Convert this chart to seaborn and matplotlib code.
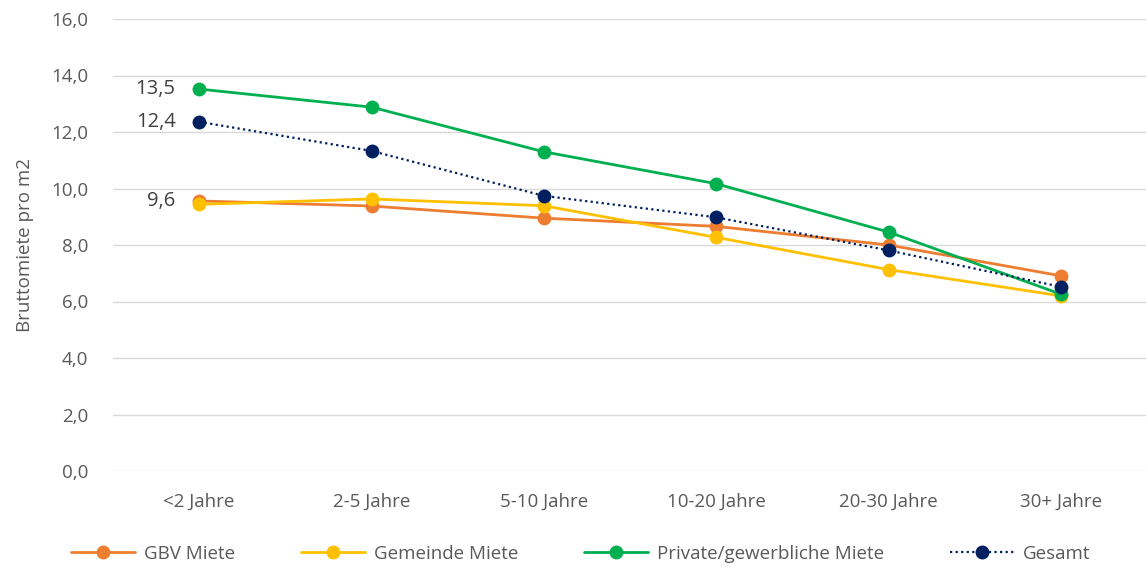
import matplotlib
matplotlib.use("Agg")
import matplotlib.pyplot as plt
import seaborn as sns
import pandas as pd
from matplotlib.ticker import FuncFormatter, MultipleLocator

categories = ["<2 Jahre", "2-5 Jahre", "5-10 Jahre", "10-20 Jahre", "20-30 Jahre", "30+ Jahre"]
gbv = [9.56, 9.38, 8.95, 8.66, 8.00, 6.91]
gemeinde = [9.44, 9.63, 9.39, 8.27, 7.13, 6.20]
private = [13.52, 12.88, 11.30, 10.17, 8.46, 6.26]
gesamt = [12.36, 11.33, 9.74, 8.98, 7.81, 6.52]
series_names = ["GBV Miete", "Gemeinde Miete", "Private/gewerbliche Miete", "Gesamt"]
series_values = [gbv, gemeinde, private, gesamt]
colors = ["#ED7D31", "#FFC000", "#00B050", "#002060"]
first_labels = {"GBV Miete": "9,6", "Private/gewerbliche Miete": "13,5", "Gesamt": "12,4"}

sns.set_theme(style="white")
plt.rcParams["font.family"] = ["Open Sans", "DejaVu Sans"]

fig = plt.figure(figsize=(11.46, 5.69), dpi=100)
ax = fig.add_axes([113/1146, 1 - 471/569, (1147-113)/1146, (471-19)/569])

rows = []
for name, vals in zip(series_names, series_values):
    for i, (c, v) in enumerate(zip(categories, vals)):
        rows.append({"Kategorie": c, "x": i, "Wert": v, "Serie": name})
df = pd.DataFrame(rows)

for name, col in zip(series_names, colors):
    sub = df[df["Serie"] == name]
    ls = (0, (1, 1.5)) if name == "Gesamt" else "-"
    lw = 1.6 if name == "Gesamt" else 2.0
    sns.lineplot(data=sub, x="x", y="Wert", ax=ax, color=col, linewidth=lw,
                 linestyle=ls, marker="o", markersize=10, markeredgewidth=0,
                 label=name, legend=False)
    if name in first_labels:
        ax.annotate(first_labels[name], (0, sub["Wert"].iloc[0]), xytext=(-17, 0),
                    textcoords="offset points", ha="right", va="center",
                    fontsize=14.5, color="#404040")

ax.set_xlim(-0.5, 5.5)
ax.set_ylim(0, 16)
ax.yaxis.set_major_locator(MultipleLocator(2))
ax.yaxis.set_major_formatter(FuncFormatter(lambda v, p: f"{v:.1f}".replace(".", ",")))
ax.set_xticks(range(len(categories)))
ax.set_xticklabels(categories)
ax.tick_params(axis="both", labelsize=13.5, colors="#595959", length=0)
ax.tick_params(axis="y", pad=18)
ax.tick_params(axis="x", pad=16)
ax.grid(axis="y", color="#D9D9D9", linewidth=1)
ax.set_axisbelow(True)
for s in ax.spines.values():
    s.set_visible(False)
ax.set_xlabel("")
ax.set_ylabel("Bruttomiete pro m2", fontsize=13.5, color="#595959", labelpad=12)

handles, labels = ax.get_legend_handles_labels()
fig.legend(handles, labels, loc="center", bbox_to_anchor=(0.507, 1 - 554/569), ncol=4,
           frameon=False, fontsize=13.5, labelcolor="#595959", handlelength=3.4,
           columnspacing=3.5, handletextpad=0.5)

fig.savefig("out.png", dpi=100)
